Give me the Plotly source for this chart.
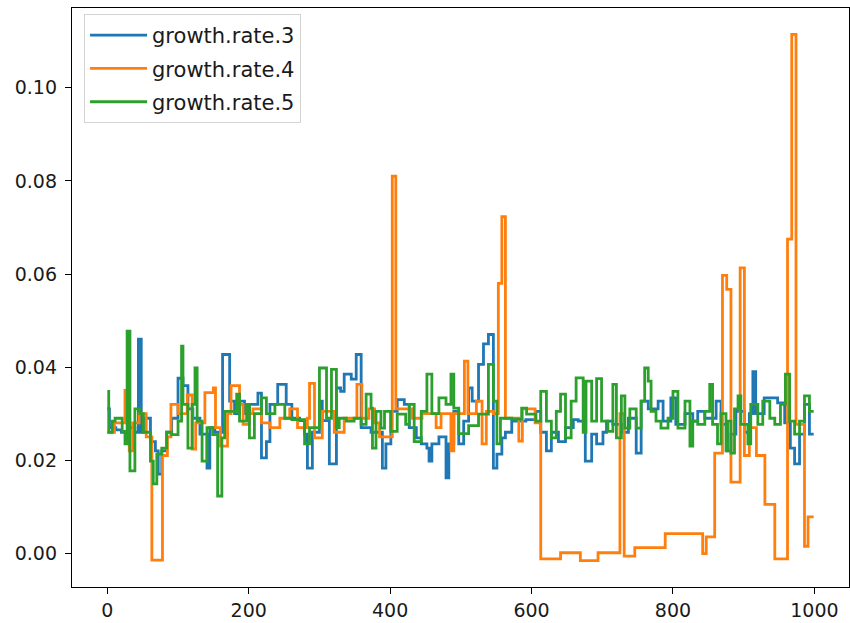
import plotly.graph_objects as go

# ---- data (step breakpoints) ----
LAST_INDEX = 999

g3_x = [0, 3, 12, 20, 30, 39, 44, 48, 51, 61, 68, 72, 77, 84, 91, 100, 107, 114, 121, 131,
        141, 145, 152, 163, 173, 180, 187, 194, 201, 213, 218, 225, 230, 241, 253, 261, 272,
        279, 283, 290, 300, 304, 314, 324, 330, 335, 345, 352, 359, 373, 389, 394, 401, 410,
        420, 427, 437, 444, 452, 455, 459, 469, 479, 483, 490, 497, 504, 511, 516, 525, 532,
        539, 546, 551, 558, 563, 572, 592, 606, 613, 621, 628, 638, 648, 659, 666, 676, 685,
        692, 701, 706, 715, 727, 737, 748, 755, 765, 779, 786, 797, 804, 817, 828, 835, 845,
        861, 868, 877, 882, 889, 901, 908, 913, 917, 929, 948, 958, 966, 972, 979, 986, 993]
g3_y = [0.031, 0.027, 0.0265, 0.026, 0.027, 0.026, 0.046, 0.026, 0.029, 0.024, 0.022, 0.017,
        0.022, 0.026, 0.029, 0.0376, 0.036, 0.031, 0.029, 0.0256, 0.0183, 0.027, 0.026, 0.0427,
        0.0327, 0.030, 0.0327, 0.030, 0.032, 0.0344, 0.0205, 0.024, 0.032, 0.0363, 0.032, 0.029,
        0.0285, 0.0256, 0.0183, 0.026, 0.0327, 0.0285, 0.0192, 0.0355, 0.0348, 0.0385, 0.0374,
        0.0427, 0.027, 0.026, 0.0183, 0.0235, 0.0305, 0.033, 0.032, 0.027, 0.0248, 0.0235,
        0.0226, 0.0198, 0.0235, 0.025, 0.0162, 0.0235, 0.0305, 0.0235, 0.0284, 0.0355, 0.0327,
        0.0406, 0.045, 0.047, 0.0183, 0.0213, 0.0248, 0.026, 0.0284, 0.0287, 0.0305, 0.026,
        0.022, 0.026, 0.024, 0.027, 0.0287, 0.0284, 0.0198, 0.0256, 0.0235, 0.026, 0.0284,
        0.0277, 0.026, 0.029, 0.0215, 0.0327, 0.031, 0.0327, 0.0284, 0.0334, 0.0277, 0.030,
        0.0284, 0.0305, 0.029, 0.0327, 0.0277, 0.022, 0.0256, 0.0305, 0.026, 0.030, 0.039,
        0.030, 0.0334, 0.0323, 0.028, 0.0226, 0.0192, 0.0256, 0.032, 0.0256]

g4_x = [0, 10, 25, 31, 36, 45, 55, 63, 78, 85, 90, 100, 113, 120, 125, 138, 150, 153, 160,
        170, 175, 187, 192, 201, 206, 218, 230, 244, 258, 269, 283, 286, 293, 304, 321, 335,
        353, 360, 370, 378, 385, 403, 408, 431, 445, 465, 472, 486, 490, 505, 510, 522, 530,
        536, 546, 553, 558, 563, 582, 587, 605, 613, 641, 669, 694, 725, 731, 746, 789, 842,
        847, 859, 870, 876, 882, 895, 901, 908, 918, 930, 944, 962, 968, 974, 986, 991]
g4_y = [0.026, 0.028, 0.035, 0.022, 0.028, 0.030, 0.025, -0.0015, 0.021, 0.025, 0.032, 0.030,
        0.034, 0.0224, 0.028, 0.0345, 0.0355, 0.027, 0.023, 0.030, 0.036, 0.032, 0.0277, 0.030,
        0.031, 0.028, 0.027, 0.029, 0.031, 0.027, 0.029, 0.0365, 0.0248, 0.0305, 0.026, 0.029,
        0.0363, 0.029, 0.031, 0.028, 0.025, 0.081, 0.031, 0.029, 0.030, 0.027, 0.030, 0.022,
        0.030, 0.0413, 0.030, 0.0327, 0.0235, 0.0305, 0.030, 0.058, 0.0723, 0.029, 0.0241,
        0.031, 0.028, -0.0012, 0.0001, -0.0016, 0.0001, 0.030, -0.0006, 0.0012, 0.0042,
        -0.0001, 0.0035, 0.0215, 0.0597, 0.0567, 0.0153, 0.0613, 0.021, 0.027, 0.021, 0.0105,
        -0.0012, 0.0675, 0.1115, 0.0277, 0.0015, 0.0078]

g5_x = [0, 2, 7, 11, 21, 25, 28, 32, 39, 46, 51, 61, 65, 70, 77, 84, 91, 100, 105, 107, 114,
        120, 124, 127, 134, 141, 149, 156, 162, 166, 183, 187, 197, 201, 208, 218, 225, 237,
        251, 261, 279, 286, 300, 310, 317, 324, 328, 338, 349, 359, 366, 373, 375, 380, 387,
        392, 401, 410, 422, 427, 434, 444, 452, 459, 469, 479, 486, 490, 497, 511, 525, 539,
        546, 551, 556, 572, 586, 593, 606, 613, 621, 628, 635, 641, 648, 656, 663, 673, 677,
        685, 692, 699, 708, 715, 720, 727, 732, 739, 748, 755, 760, 765, 769, 776, 783, 793,
        800, 807, 817, 824, 828, 835, 845, 852, 856, 863, 868, 875, 877, 882, 887, 892, 896,
        906, 910, 920, 927, 937, 944, 952, 959, 965, 972, 979, 986, 993]
g5_y = [0.0348, 0.026, 0.0284, 0.029, 0.0262, 0.0235, 0.0477, 0.0177, 0.031, 0.030, 0.026,
        0.0198, 0.0149, 0.0213, 0.0226, 0.026, 0.0255, 0.0284, 0.0445, 0.032, 0.0226, 0.032,
        0.0398, 0.0284, 0.0198, 0.027, 0.0255, 0.0123, 0.0248, 0.0305, 0.0342, 0.0284, 0.032,
        0.0248, 0.030, 0.0334, 0.030, 0.032, 0.029, 0.0287, 0.0235, 0.027, 0.0398, 0.029,
        0.0395, 0.027, 0.029, 0.0284, 0.029, 0.0277, 0.0342, 0.0312, 0.0226, 0.0305, 0.0269,
        0.0305, 0.0262, 0.0299, 0.0277, 0.032, 0.024, 0.0305, 0.0385, 0.030, 0.0334, 0.032,
        0.0385, 0.0312, 0.0257, 0.0274, 0.0299, 0.0406, 0.0327, 0.0235, 0.029, 0.0288, 0.0312,
        0.0299, 0.0284, 0.0348, 0.0284, 0.0248, 0.0305, 0.0342, 0.0248, 0.0327, 0.0377, 0.026,
        0.037, 0.0284, 0.0375, 0.0284, 0.0262, 0.0363, 0.0248, 0.0338, 0.0269, 0.031, 0.0269,
        0.0327, 0.0398, 0.037, 0.0305, 0.0284, 0.0269, 0.029, 0.0348, 0.0269, 0.0327, 0.023,
        0.0284, 0.0277, 0.0305, 0.0363, 0.0277, 0.0235, 0.030, 0.022, 0.0284, 0.0215, 0.031,
        0.0338, 0.0277, 0.0235, 0.032, 0.0277, 0.0327, 0.029, 0.0277, 0.032, 0.0385, 0.0284,
        0.0256, 0.0284, 0.0338, 0.0305]

series = [
    ("growth.rate.3", g3_x, g3_y, "#1f77b4"),
    ("growth.rate.4", g4_x, g4_y, "#ff7f0e"),
    ("growth.rate.5", g5_x, g5_y, "#2ca02c"),
]

x_ticks = [0, 200, 400, 600, 800, 1000]
y_ticks = [0.00, 0.02, 0.04, 0.06, 0.08, 0.10]

FONT = "DejaVu Sans"

fig = go.Figure()
for i, (name, xs, ys, color) in enumerate(series):
    fig.add_trace(go.Scatter(
        x=list(xs) + [LAST_INDEX], y=list(ys) + [ys[-1]],
        mode="lines", line=dict(color=color, width=2.8, shape="hv"),
        name=name, legendgroup=f"g{i}",
    ))

# axis extents with 5% padding as in matplotlib
all_y = g3_y + g4_y + g5_y
ymin, ymax = min(all_y), max(all_y)
ypad = 0.05 * (ymax - ymin)
xpad = 0.05 * LAST_INDEX

axis_common = dict(
    showline=True, linecolor="black", linewidth=1.3, mirror=True,
    ticks="outside", ticklen=6, tickwidth=1.3, tickcolor="black",
    showgrid=False, zeroline=False, automargin=False,
    tickfont=dict(family=FONT, size=19, color="#1a1a1a"),
)

fig.update_layout(
    width=850, height=623,
    margin=dict(l=72, r=1, t=8, b=36),
    paper_bgcolor="white", plot_bgcolor="white",
    font=dict(family=FONT, size=19, color="#1a1a1a"),
    xaxis=dict(range=[-xpad, LAST_INDEX + xpad], tickvals=x_ticks,
               ticktext=[str(v) for v in x_ticks], **axis_common),
    yaxis=dict(range=[ymin - ypad, ymax + ypad], tickvals=y_ticks,
               ticktext=[f"{v:.2f}" for v in y_ticks], ticklabelstandoff=4, **axis_common),
    legend=dict(
        x=0.0155, y=0.9896, xanchor="left", yanchor="top",
        bgcolor="rgba(255,255,255,0.8)", bordercolor="#d4d4d4", borderwidth=1,
        font=dict(family=FONT, size=21, color="#1a1a1a"),
        traceorder="grouped", tracegroupgap=3, itemwidth=57,
    ),
    showlegend=True,
)

fig.write_html("out.html", config={"displayModeBar": False},
               post_script="document.body.style.margin='0px';")
